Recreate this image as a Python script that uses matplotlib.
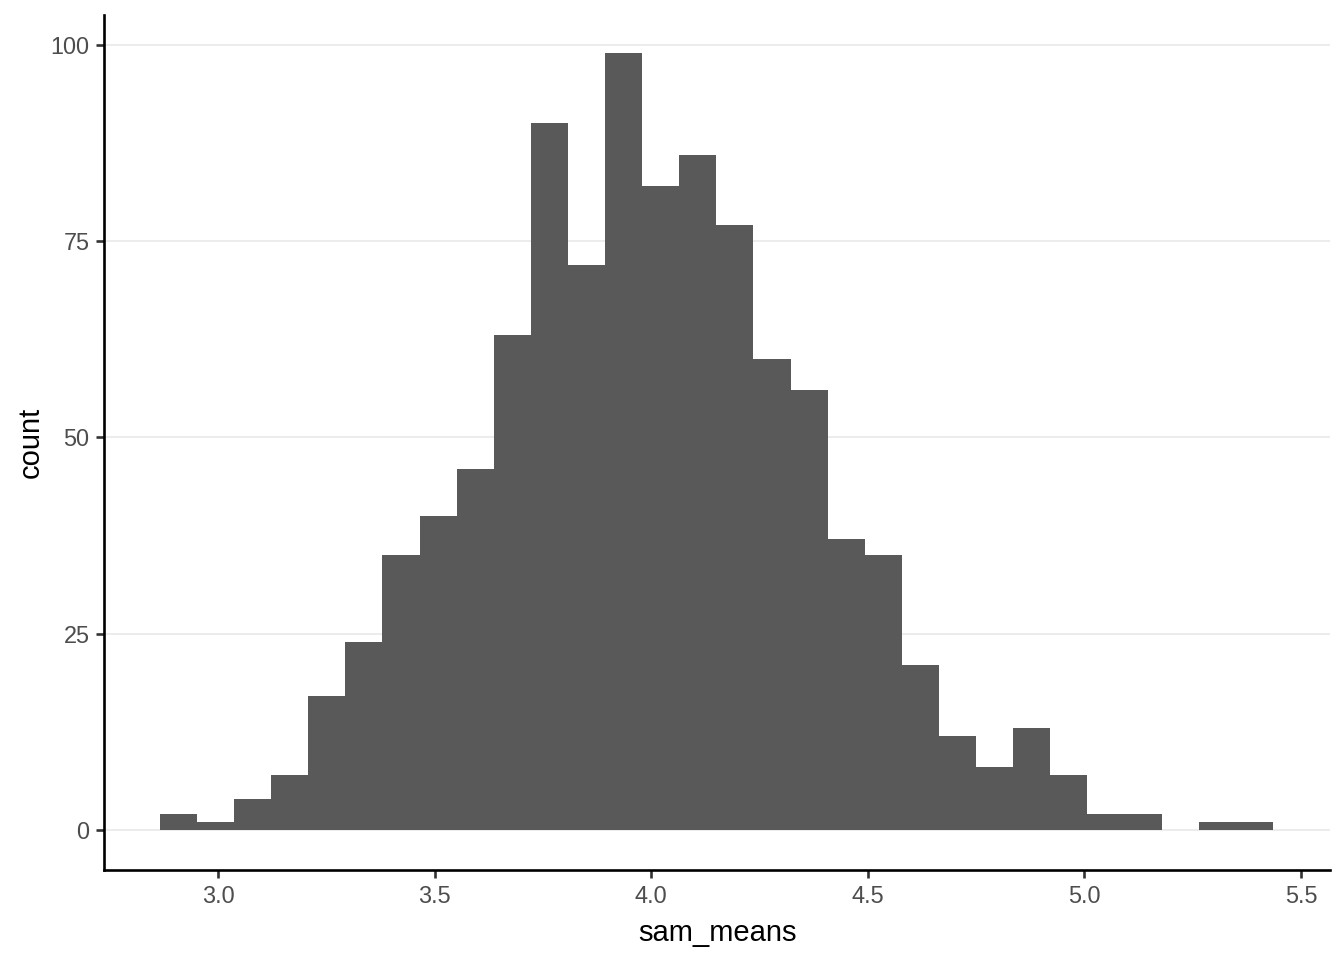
import numpy as np
import matplotlib
matplotlib.use('Agg')
import matplotlib.pyplot as plt

plt.rcParams['font.family'] = ['Liberation Sans', 'DejaVu Sans']

# histogram of sam_means, 30 bins
bin_lo = 2.866
bin_hi = 5.435
counts = [2, 1, 4, 7, 17, 24, 35, 40, 46, 63,
          90, 72, 99, 82, 86, 77, 60, 56, 37, 35,
          21, 12, 8, 13, 7, 2, 2, 0, 1, 1]
x_ticks = [3.0, 3.5, 4.0, 4.5, 5.0, 5.5]
y_ticks = [0, 25, 50, 75, 100]

edges = np.linspace(bin_lo, bin_hi, len(counts) + 1)
width = edges[1] - edges[0]

fig = plt.figure(figsize=(13.44, 9.6), dpi=100)
ax = fig.add_axes([0.0774, 0.09375, 0.9122, 0.8906])

ax.bar(edges[:-1], counts, width=width, align='edge', color='#595959',
       linewidth=0, zorder=2)

ax.set_xlim(2.737, 5.567)
ax.set_ylim(-5.1, 103.8)
ax.set_xticks(x_ticks)
ax.set_xticklabels([f'{t:.1f}' for t in x_ticks])
ax.set_yticks(y_ticks)
ax.yaxis.grid(True, color='#EBEBEB', linewidth=1.3, zorder=0)
ax.set_axisbelow(True)

for side in ['top', 'right']:
    ax.spines[side].set_visible(False)
for side in ['left', 'bottom']:
    ax.spines[side].set_linewidth(1.9)
    ax.spines[side].set_color('black')

ax.tick_params(axis='both', colors='#333333', width=1.9, length=5.5,
               labelsize=16.9, labelcolor='#4D4D4D', pad=5)

ax.set_xlabel('sam_means', fontsize=21, color='black', labelpad=8)
ax.set_ylabel('count', fontsize=21, color='black', labelpad=4)

fig.savefig('out.png', dpi=100)
